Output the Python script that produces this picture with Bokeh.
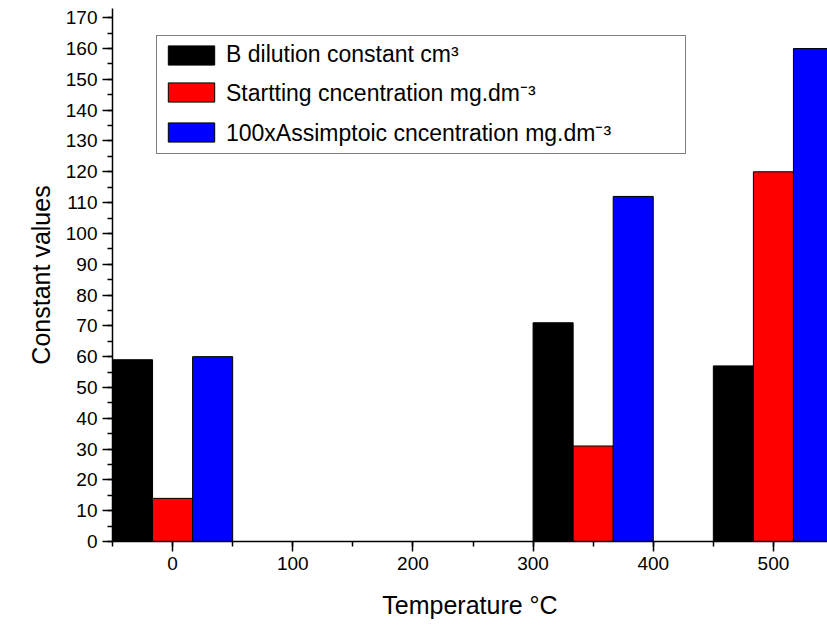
from bokeh.plotting import figure
from bokeh.models import Range1d, SingleIntervalTicker, Legend, LegendItem, ColumnDataSource
from bokeh.transform import dodge
from bokeh.embed import file_html
from bokeh.resources import INLINE

# Data
temperatures = [0, 350, 500]
b_dilution = [59, 71, 57]
starting_conc = [14, 31, 120]
assimptotic_conc = [60, 112, 160]

series_labels = [
    "B dilution constant cm³",
    "Startting cncentration mg.dm⁻³",
    "100xAssimptoic cncentration mg.dm⁻³",
]
series_colors = ["#000000", "#ff0000", "#0000ff"]

src = ColumnDataSource(dict(t=temperatures, b=b_dilution, s=starting_conc, a=assimptotic_conc))

FONT = "Liberation Sans"

p = figure(width=827, height=629, output_backend="svg", toolbar_location=None,
           x_range=Range1d(-50, 545), y_range=Range1d(0, 173),
           min_border_left=112, min_border_right=0, min_border_top=8, min_border_bottom=88)
p.outline_line_color = None
p.xgrid.visible = False
p.ygrid.visible = False
p.background_fill_color = "white"

bw = 100 / 3
r1 = p.vbar(x=dodge("t", -bw, range=p.x_range), top="b", width=bw, source=src,
            fill_color=series_colors[0], line_color="black", line_width=1)
r2 = p.vbar(x=dodge("t", 0, range=p.x_range), top="s", width=bw, source=src,
            fill_color=series_colors[1], line_color="black", line_width=1)
r3 = p.vbar(x=dodge("t", bw, range=p.x_range), top="a", width=bw, source=src,
            fill_color=series_colors[2], line_color="black", line_width=1)

for ax in (p.xaxis[0], p.yaxis[0]):
    ax.axis_line_width = 1.5
    ax.major_tick_line_width = 1.5
    ax.minor_tick_line_width = 1.5
    ax.major_tick_out = 10
    ax.major_tick_in = 0
    ax.minor_tick_out = 5
    ax.minor_tick_in = 0
    ax.major_label_text_font = FONT
    ax.major_label_text_font_size = "19px"
    ax.major_label_text_color = "black"
    ax.axis_label_text_font = FONT
    ax.axis_label_text_font_size = "25px"
    ax.axis_label_text_font_style = "normal"
    ax.axis_label_text_color = "black"
    ax.major_label_standoff = 5

p.xaxis[0].ticker = SingleIntervalTicker(interval=100, num_minor_ticks=2)
p.yaxis[0].ticker = SingleIntervalTicker(interval=10, num_minor_ticks=2)
p.xaxis[0].axis_label = "Temperature °C"
p.yaxis[0].axis_label = "Constant values"
p.xaxis[0].axis_label_standoff = 18
p.yaxis[0].axis_label_standoff = 8

legend = Legend(items=[LegendItem(label=series_labels[0], renderers=[r1]),
                       LegendItem(label=series_labels[1], renderers=[r2]),
                       LegendItem(label=series_labels[2], renderers=[r3])],
                location=(44, 387))
legend.label_text_font = FONT
legend.label_text_font_size = "23px"
legend.label_text_color = "black"
legend.glyph_width = 58
legend.glyph_height = 24
legend.label_height = 24
legend.label_standoff = 6
legend.label_width = 454
legend.spacing = 8
legend.padding = 5
legend.margin = 0
legend.border_line_color = "black"
legend.border_line_width = 1
legend.background_fill_alpha = 1
p.add_layout(legend, "center")

open("out.html", "w").write(file_html(p, INLINE))
